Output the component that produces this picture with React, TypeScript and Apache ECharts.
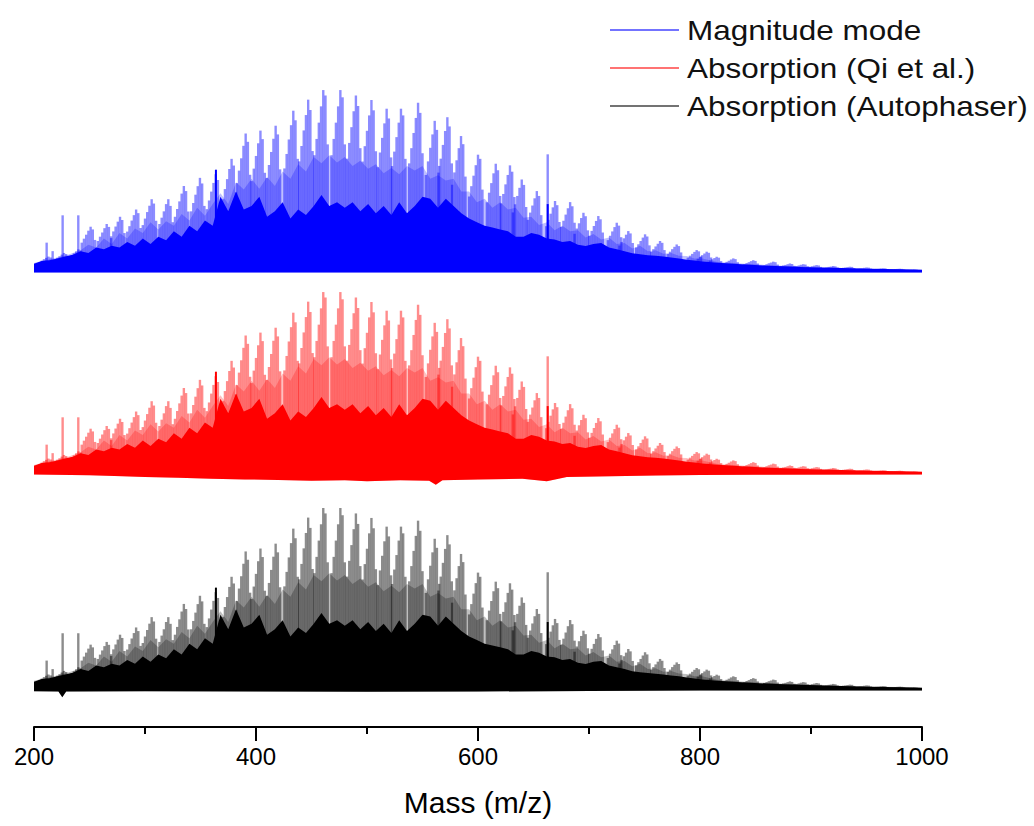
import { useEffect, useRef } from "react";
import * as echarts from "echarts";

// ---- axis ----
const xTickLabels = [200, 400, 600, 800, 1000];

// ---- peak clusters (m/z of cluster apex) ----
const stickOffsets = [-8, -6, -4, -2, 0, 2, 4];
const clusterApexMz = [
  213, 227, 240, 251, 265.5, 277.5, 292, 306, 321, 335, 349.5, 363.7, 378, 390.7, 404, 417.7,
  433.6, 447, 460.6, 476, 490, 504, 517.7, 530.6, 546, 561, 572.4, 584.7, 600, 616, 628.8,
  639.4, 653, 669.4, 683, 695, 708.4, 725, 735.4, 750.5, 764, 779, 797, 806, 815, 830, 848,
  866, 881, 893, 905, 920, 935, 950, 965, 980, 993,
];
// stick heights inside each cluster, % of the base peak
const clusterSticks = [
  [5, 5.8, 6.6, 7.3, 8, 7.5, 5.6],
  [6.4, 7.3, 8.2, 9.1, 10, 9.4, 7],
  [7.7, 8.8, 9.8, 10.9, 12, 11.3, 8.4],
  [15.7, 17.9, 20.1, 22.3, 24.5, 23, 17.2],
  [16.6, 19, 21.3, 23.7, 26, 24.4, 18.2],
  [19.2, 21.9, 24.6, 27.3, 30, 28.2, 21],
  [21.8, 24.8, 27.9, 30.9, 34, 32, 23.8],
  [25.4, 29, 32.6, 36.1, 39.7, 37.3, 27.8],
  [26, 29.5, 33, 37, 39.7, 36, 27],
  [30, 34.3, 38.5, 42.8, 47, 44.2, 32.9],
  [33, 37.6, 42.2, 46.9, 51.5, 48.4, 36],
  [34.2, 39, 43.9, 48.7, 53.5, 50.3, 37.5],
  [39.7, 45.3, 50.8, 56.4, 62, 58.3, 43.4],
  [48.6, 55.5, 62.3, 69.2, 76, 71.4, 53.2],
  [49.7, 56.6, 63.6, 70.6, 77.6, 72.9, 54.3],
  [51.4, 58.6, 65.8, 73.1, 80.3, 75.5, 56.2],
  [56.7, 64.7, 72.7, 80.6, 88.6, 83.3, 62],
  [60.6, 69.1, 77.7, 86.2, 94.7, 89, 66.3],
  [64, 73, 82, 91, 100, 97, 70],
  [64, 73, 82, 91, 100, 96, 70],
  [62.1, 70.8, 79.5, 88.3, 97, 91.2, 67.9],
  [60.5, 69, 77.5, 86, 94.5, 88.8, 66.2],
  [57.4, 65.5, 73.6, 81.6, 89.7, 84.3, 62.8],
  [58, 66, 74, 82, 89.7, 86, 62],
  [59.5, 67.9, 76.3, 84.6, 93, 87.4, 65.1],
  [53.1, 60.6, 68.1, 75.5, 83, 78, 58.1],
  [54.4, 62.1, 69.7, 77.4, 85, 79.9, 59.5],
  [47.7, 54.5, 61.2, 67.9, 74.6, 70.1, 52.2],
  [41.2, 46.9, 52.7, 58.5, 64.3, 62, 45],
  [38, 43.3, 48.6, 54, 59.3, 55.7, 41.5],
  [37.4, 42.6, 47.9, 53.1, 58.4, 54.9, 40.9],
  [32.4, 36.9, 41.5, 46, 50.6, 47.6, 35.4],
  [28.3, 32.3, 36.2, 40.2, 44.2, 41.5, 30.9],
  [24.8, 28.3, 31.7, 35.2, 38.7, 36.4, 27.1],
  [24.4, 27.8, 31.2, 34.7, 38.1, 35.8, 26.7],
  [20.6, 23.5, 26.4, 29.3, 32.2, 30.3, 22.5],
  [19.5, 22.2, 24.9, 27.7, 30.4, 28.6, 21.3],
  [17.1, 19.5, 21.9, 24.3, 26.7, 25.1, 18.7],
  [14.1, 16.1, 18.1, 20.1, 22.1, 20.8, 15.5],
  [13, 14.8, 16.6, 18.5, 20.3, 19.1, 14.2],
  [10.6, 12.1, 13.6, 15.1, 16.6, 15.6, 11.6],
  [9.4, 10.7, 12.1, 13.4, 14.7, 13.8, 10.3],
  [7.4, 8.5, 9.5, 10.6, 11.6, 10.9, 8.1],
  [6.8, 7.8, 8.8, 9.7, 10.7, 10.1, 7.5],
  [5.1, 5.8, 6.5, 7.2, 7.9, 7.4, 5.5],
  [4.5, 5.1, 5.7, 6.4, 7, 6.6, 4.9],
  [3.8, 4.4, 4.9, 5.5, 6, 5.6, 4.2],
  [3.3, 3.8, 4.3, 4.7, 5.2, 4.9, 3.6],
  [2.7, 3.1, 3.4, 3.8, 4.2, 3.9, 2.9],
  [2.4, 2.8, 3.1, 3.5, 3.8, 3.6, 2.7],
  [2.1, 2.4, 2.7, 3, 3.3, 3.1, 2.3],
  [1.8, 2, 2.3, 2.5, 2.8, 2.6, 2],
  [1.5, 1.8, 2, 2.2, 2.4, 2.3, 1.7],
  [1.3, 1.5, 1.6, 1.8, 2, 1.9, 1.4],
  [1, 1.2, 1.3, 1.5, 1.6, 1.5, 1.1],
  [0.8, 0.9, 1.1, 1.2, 1.3, 1.2, 0.9],
  [0.6, 0.7, 0.7, 0.8, 0.9, 0.8, 0.6],
];

// isolated single peaks
const spikeMz = [211.4, 216.8, 225.8, 239.9, 662.8];
const spikeH = [15.7, 11, 30.8, 30.8, 64.5];
const darkSpikeMz = [363.9, 662.8];
const darkSpikeH = [56, 37];

// envelope grid for the crowded lower part of the spectrum
const denseMz = [
  200, 207, 214, 221, 228, 235, 242, 249, 256, 263, 270, 277, 284, 291, 298, 305, 312, 319, 326,
  333, 340, 347, 354, 361, 368, 375, 382, 389, 396, 403, 410, 417, 424, 431, 438, 445, 452, 459,
  466, 473, 480, 487, 494, 501, 508, 515, 522, 529, 536, 543, 550, 557, 564, 571, 578, 585, 592,
  599, 606, 613, 620, 627, 634, 641, 648, 655, 662, 669, 676, 683, 690, 697, 704, 711, 718, 725,
  732, 739, 746, 753, 760, 767, 774, 781, 788, 795, 802, 816, 830, 845, 860, 875, 890, 905, 920,
  935, 950, 965, 980, 1000,
];
// upper edge of the saturated (fully overlapped) region
const denseTop = [
  4, 5.5, 6, 7, 8, 9, 11, 10, 13, 12, 14, 13, 16, 14, 18, 15, 19, 17, 22, 19, 25, 22, 28, 25, 41,
  33, 44, 34, 36, 41, 30, 33, 38, 29, 34, 31, 36, 42, 36, 38, 35, 38, 33, 37, 32, 36, 31, 38, 32,
  36, 41, 40, 35, 40, 36, 32, 29, 27, 25, 24, 23, 22, 19, 19, 21, 20, 18, 17.5, 16, 16.6, 14.5,
  13.8, 15, 15.5, 13, 12, 11, 9.8, 9.3, 8.8, 8.4, 8, 7.5, 7, 6.3, 5.8, 5.3, 4.6, 4, 3.5, 3, 2.6,
  2.3, 2, 1.8, 1.5, 1.3, 1.1, 1, 0.7,
];
// upper edge of the partly overlapped (mid-tone) region
const midTop = [
  4.5, 5.5, 6.5, 7.5, 8.5, 10, 11.5, 14.5, 13, 18,
  15, 21, 18, 23.5, 21, 27, 23, 27.5, 25, 31.5,
  28, 35, 30.5, 37, 43, 37, 49, 45, 51, 45.5,
  52, 47, 55, 51, 59, 55, 63, 59.5, 64, 60,
  63, 58, 61, 56.5, 59, 54, 57, 53.5, 58, 55.5,
  58, 51, 53, 50, 51, 44, 44, 38, 40, 35,
  38, 34, 35, 29.5, 30, 25.5, 27, 22.5, 25, 22,
  22.5, 18.5, 20.5, 17.5, 18.5, 15, 15.5, 12.5, 14, 11,
  11.5, 9.5, 10, 8.5, 8.3, 7, 7, 5, 4.4, 3.9,
  3.4, 2.9, 2.5, 2.1, 1.8, 1.6, 1.4, 1.2, 1.05, 0.75,
];

// lower edge of each trace (negative excursions below the baseline)
const blueDipMz = [200, 1000];
const blueDip = [-0.8, -0.8];
const redDipMz = [200, 250, 280, 300, 330, 360, 390, 420, 450, 480, 500, 530, 556, 562, 568, 600, 640, 662, 680, 720, 760, 800, 850, 1000];
const redDip = [-0.8, -1.2, -1.8, -2.2, -2.6, -3.2, -3.5, -3.8, -4.2, -4, -4.5, -4, -4.2, -6.5, -4, -3.5, -3.2, -4.5, -2.2, -1.8, -1.4, -1.1, -0.9, -0.8];
const blackDipMz = [200, 222, 225.5, 229, 300, 400, 500, 600, 700, 800, 1000];
const blackDip = [-1.2, -1.4, -4.6, -1.4, -1.3, -1.4, -1.5, -1.4, -1.1, -0.9, -0.8];

const legendNames = ["Magnitude mode", "Absorption (Qi et al.)", "Absorption (Autophaser)"];

const FONT = "'Liberation Sans', Arial, sans-serif";

const traces = [
  { name: legendNames[0], base: 251.9, rgb: "0,0,255", dark: "#0000ff", dipMz: blueDipMz, dip: blueDip },
  { name: legendNames[1], base: 140.3, rgb: "255,0,0", dark: "#ff0000", dipMz: redDipMz, dip: redDip },
  { name: legendNames[2], base: 21.0, rgb: "0,0,0", dark: "#000000", dipMz: blackDipMz, dip: blackDip },
];

export default function App() {
  const ref = useRef<HTMLDivElement>(null);

  useEffect(() => {
    const chart = echarts.init(ref.current!, null, { renderer: "svg" });

    const sticks: number[][] = [];
    clusterApexMz.forEach((mz, i) =>
      clusterSticks[i].forEach((h, j) => sticks.push([mz + stickOffsets[j], h]))
    );
    spikeMz.forEach((mz, i) => sticks.push([mz, spikeH[i]]));
    const darkSticks = darkSpikeMz.map((mz, i) => [mz, darkSpikeH[i]]);

    const series: any[] = [];
    traces.forEach((t) => {
      const band = (top: number[], fill: string, z: number, nm: string) => ({
        type: "custom",
        name: t.name + nm,
        silent: true,
        z,
        data: [[600, 0]],
        renderItem: (_p: any, api: any) => {
          const pts: number[][] = [];
          denseMz.forEach((mz, i) => pts.push(api.coord([mz, t.base + top[i]])));
          for (let j = t.dipMz.length - 1; j >= 0; j--) pts.push(api.coord([t.dipMz[j], t.base + t.dip[j]]));
          return { type: "polygon", shape: { points: pts }, style: { fill } };
        },
      });
      series.push(band(midTop, `rgba(${t.rgb},0.25)`, 1, " mid"));
      series.push(band(denseTop, t.dark, 2, " dense"));
      series.push({
        type: "custom",
        name: t.name,
        silent: true,
        z: 3,
        data: sticks,
        renderItem: (_p: any, api: any) => {
          const x = api.value(0);
          const h = api.value(1);
          const p0 = api.coord([x, t.base]);
          const p1 = api.coord([x, t.base + h]);
          return {
            type: "line",
            shape: { x1: p0[0], y1: p0[1], x2: p1[0], y2: p1[1] },
            style: { stroke: `rgba(${t.rgb},0.45)`, lineWidth: 2.4 },
          };
        },
      });
      series.push({
        type: "custom",
        name: t.name + " strong",
        silent: true,
        z: 4,
        data: darkSticks,
        renderItem: (_p: any, api: any) => {
          const x = api.value(0);
          const h = api.value(1);
          const p0 = api.coord([x, t.base]);
          const p1 = api.coord([x, t.base + h]);
          return {
            type: "line",
            shape: { x1: p0[0], y1: p0[1], x2: p1[0], y2: p1[1] },
            style: { stroke: t.dark, lineWidth: 2 },
          };
        },
      });
    });

    const legendY = [30, 68, 106];
    const legendGraphics: any[] = [];
    traces.forEach((t, i) => {
      legendGraphics.push({
        type: "line",
        shape: { x1: 610, y1: legendY[i], x2: 679, y2: legendY[i] },
        style: { stroke: `rgba(${t.rgb},0.55)`, lineWidth: 2 },
      });
      legendGraphics.push({
        type: "text",
        x: 687,
        y: legendY[i],
        scaleX: 1.165,
        style: {
          text: t.name,
          fill: "#111",
          fontSize: 27,
          fontFamily: FONT,
          verticalAlign: "middle",
          align: "left",
        },
      });
    });

    chart.setOption({
      animation: false,
      backgroundColor: "#ffffff",
      grid: { left: 34, right: 112, top: 75.4, bottom: 99 },
      xAxis: {
        type: "value",
        min: 200,
        max: 1000,
        interval: 200,
        splitLine: { show: false },
        axisLine: { lineStyle: { color: "#000", width: 2 } },
        axisTick: { length: 14, lineStyle: { color: "#000", width: 2 } },
        minorTick: { show: true, splitNumber: 2, length: 7, lineStyle: { color: "#000", width: 2 } },
        axisLabel: {
          fontSize: 24,
          color: "#000",
          fontFamily: FONT,
          margin: 17,
          formatter: (v: number) => (xTickLabels.includes(v) ? String(v) : ""),
        },
        name: "Mass (m/z)",
        nameLocation: "middle",
        nameGap: 60,
        nameTextStyle: { fontSize: 30, color: "#000", fontFamily: FONT },
      },
      yAxis: { type: "value", min: 0, max: 360, show: false },
      series,
      graphic: legendGraphics,
    });

    return () => chart.dispose();
  }, []);

  return (
    <div
      ref={ref}
      style={{ position: "fixed", left: 0, top: 0, width: 1034, height: 826, background: "#fff" }}
    />
  );
}
